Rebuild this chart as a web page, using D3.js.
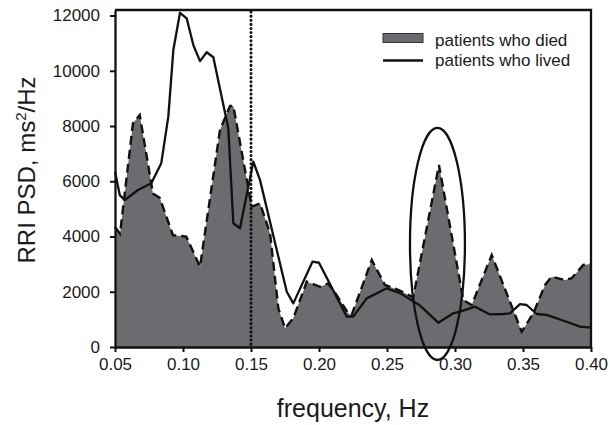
<!DOCTYPE html>
<html>
<head>
<meta charset="utf-8">
<script src="https://cdn.jsdelivr.net/npm/d3@7"></script>
<style>
  body { margin: 0; background: #fff; }
  text { font-family: "Liberation Sans", Arial, sans-serif; fill: #1a1a1a; }
</style>
</head>
<body>
<div class="container"></div>
<script>
// RRI power spectral density, died vs lived
const width = 610;
const height = 425;
const margin = { top: 10, right: 19, bottom: 78, left: 115 };

const xTicks = [0.05, 0.10, 0.15, 0.20, 0.25, 0.30, 0.35, 0.40];
const yTicks = [0, 2000, 4000, 6000, 8000, 10000, 12000];

// patients who died
const diedFreq = [0.050, 0.0537, 0.0632, 0.0682, 0.0779, 0.0829, 0.0926, 0.1024, 0.1125, 0.1272,
    0.1346, 0.1370, 0.1505, 0.1566, 0.1640, 0.1701, 0.1750, 0.1811, 0.1910, 0.2007,
    0.2068, 0.2130, 0.2215, 0.2240, 0.2388, 0.2485, 0.2583, 0.2693, 0.2882, 0.3061,
    0.3123, 0.3270, 0.3490, 0.3576, 0.3662, 0.3711, 0.3809, 0.3858, 0.3943, 0.4000];
const diedPsd = [4350, 4100, 8100, 8400, 5560, 5400, 4050, 4000, 2900, 7860,
    8730, 8730, 5080, 5200, 4120, 1400, 680, 1040, 2365, 2180,
    2300, 1880, 1220, 1160, 3150, 2245, 2065, 1800, 6590, 1700,
    1520, 3330, 555, 1220, 2245, 2545, 2425, 2490, 2970, 3005];

// patients who lived
const livedFreq = [0.050, 0.0535, 0.0571, 0.0669, 0.0767, 0.0840, 0.0892, 0.0929, 0.0978, 0.1027,
    0.1076, 0.1125, 0.1174, 0.1223, 0.1333, 0.1370, 0.1419, 0.1517, 0.1566, 0.1763,
    0.1811, 0.1952, 0.2000, 0.2204, 0.2252, 0.2351, 0.2498, 0.2596, 0.2743, 0.2877,
    0.2987, 0.3049, 0.3147, 0.3257, 0.3355, 0.3404, 0.3478, 0.3527, 0.3601, 0.3674,
    0.3821, 0.3919, 0.4000];
const livedPsd = [6350, 5500, 5320, 5685, 5930, 6650, 8340, 10750, 12100, 11900,
    10930, 10350, 10670, 10490, 7920, 4480, 4300, 6710, 6050, 2000,
    1580, 3090, 3050, 1100, 1100, 1760, 2125, 1950, 1500, 880,
    1220, 1300, 1460, 1180, 1195, 1220, 1555, 1520, 1195, 1160,
    915, 735, 700];

// LF/HF boundary and the circled HF peak
const boundaryFreq = 0.15;
const ellipseCenter = { f: 0.2871, v: 3730 };
const ellipseRadius = { f: 0.0202, v: 4200 };

const died = diedFreq.map((f, i) => ({ f, v: diedPsd[i] }));
const lived = livedFreq.map((f, i) => ({ f, v: livedPsd[i] }));

const svg = d3.select('.container')
    .append('svg')
    .attr('width', width)
    .attr('height', height);

const x = d3.scaleLinear().domain([0.05, 0.40]).range([margin.left, width - margin.right]);
const y = d3.scaleLinear().domain([0, 12200]).range([height - margin.bottom, margin.top]);

// filled area for died
const area = d3.area().x(d => x(d.f)).y0(y(0)).y1(d => y(d.v));
svg.append('path')
    .datum(died)
    .attr('d', area)
    .attr('fill', '#6b6c6f');

svg.append('path')
    .datum(died)
    .attr('d', d3.line().x(d => x(d.f)).y(d => y(d.v)))
    .attr('fill', 'none')
    .attr('stroke', '#111')
    .attr('stroke-width', 2.4)
    .attr('stroke-dasharray', '9,5');

svg.append('path')
    .datum(lived)
    .attr('d', d3.line().x(d => x(d.f)).y(d => y(d.v)))
    .attr('fill', 'none')
    .attr('stroke', '#111')
    .attr('stroke-width', 2.3)
    .attr('stroke-linejoin', 'round');

// dotted boundary
svg.append('line')
    .attr('x1', x(boundaryFreq)).attr('x2', x(boundaryFreq))
    .attr('y1', y.range()[1] + 2).attr('y2', y(0))
    .attr('stroke', '#111')
    .attr('stroke-width', 3)
    .attr('stroke-linecap', 'round')
    .attr('stroke-dasharray', '0.1,4');

// ellipse around the HF peak
svg.append('ellipse')
    .attr('cx', x(ellipseCenter.f))
    .attr('cy', y(ellipseCenter.v))
    .attr('rx', x(ellipseCenter.f + ellipseRadius.f) - x(ellipseCenter.f))
    .attr('ry', y(0) - y(ellipseRadius.v))
    .attr('fill', 'none')
    .attr('stroke', '#111')
    .attr('stroke-width', 2.3);

// axes
const xAxis = svg.append('g')
    .attr('transform', `translate(0,${y(0)})`)
    .call(d3.axisBottom(x).tickValues(xTicks).tickFormat(d3.format('.2f')).tickSize(5).tickSizeOuter(0).tickPadding(6));
const yAxis = svg.append('g')
    .attr('transform', `translate(${margin.left},0)`)
    .call(d3.axisLeft(y).tickValues(yTicks).tickFormat(d3.format('d')).tickSize(5).tickSizeOuter(0).tickPadding(10));

[xAxis, yAxis].forEach(g => {
    g.select('.domain').attr('stroke', '#111').attr('stroke-width', 2.3);
    g.selectAll('.tick line').attr('stroke', '#111').attr('stroke-width', 2);
    g.selectAll('.tick text').style('font-size', '17px').style('font-family', '"Liberation Sans", Arial, sans-serif').attr('fill', '#1a1a1a');
});

// frame top and right
svg.append('path')
    .attr('d', `M${x.range()[0]},${y.range()[1]}H${x.range()[1]}V${y(0)}`)
    .attr('fill', 'none')
    .attr('stroke', '#111')
    .attr('stroke-width', 2.3);

// legend
const legend = svg.append('g').attr('transform', 'translate(383,0)');
legend.append('rect')
    .attr('x', 0).attr('y', 33.5).attr('width', 40).attr('height', 9)
    .attr('fill', '#6b6c6f').attr('stroke', '#333').attr('stroke-width', 1);
legend.append('line')
    .attr('x1', 0).attr('x2', 40).attr('y1', 60.5).attr('y2', 60.5)
    .attr('stroke', '#111').attr('stroke-width', 2.3);
legend.append('text').attr('x', 52).attr('y', 46).style('font-size', '17px').text('patients who died');
legend.append('text').attr('x', 52).attr('y', 66).style('font-size', '17px').text('patients who lived');

// axis titles
svg.append('text')
    .attr('x', (x.range()[0] + x.range()[1]) / 2)
    .attr('y', 417)
    .attr('text-anchor', 'middle')
    .style('font-size', '25px')
    .text('frequency, Hz');

const yTitle = svg.append('text')
    .attr('transform', 'translate(35,170) rotate(-90)')
    .attr('text-anchor', 'middle')
    .style('font-size', '24px');
yTitle.append('tspan').text('RRI PSD, ms');
yTitle.append('tspan').attr('dy', -9).style('font-size', '15px').text('2');
yTitle.append('tspan').attr('dy', 9).text('/Hz');
</script>
</body>
</html>
